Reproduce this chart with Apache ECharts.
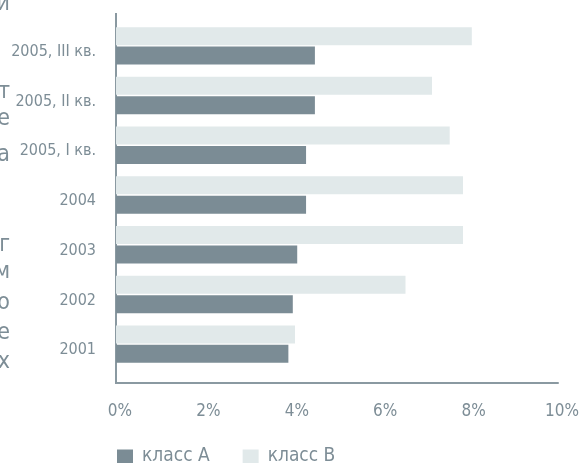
<!DOCTYPE html>
<html>
<head>
<meta charset="utf-8">
<script src="https://cdn.jsdelivr.net/npm/echarts@6/dist/echarts.min.js"></script>
<style>
  html, body { margin: 0; padding: 0; background: #fff; }
  #main { width: 579px; height: 463px; }
</style>
</head>
<body>
<div id="main"></div>
<script>
var categories = ['2001', '2002', '2003', '2004', '2005, I кв.', '2005, II кв.', '2005, III кв.'];
var classA = [3.9, 4.0, 4.1, 4.3, 4.3, 4.5, 4.5];
var classB = [4.05, 6.55, 7.85, 7.85, 7.55, 7.15, 8.05];
var seriesNames = ['класс А', 'класс В'];
// обрезанные буквы соседнего текста у левого края
var sideLetters = ['и', 'т', 'е', 'а', 'г', 'м', 'о', 'е', 'х'];
var sideY = [4, 92, 119, 155, 245, 272, 303, 333, 362];

var font = '"DejaVu Sans Condensed", "Liberation Sans Narrow", "Roboto", sans-serif';
var textColor = '#7d8d96';
var axisColor = '#8a99a1';

var myChart = echarts.init(document.getElementById('main'));

var side = sideLetters.map(function (ch, i) {
    return {
        type: 'text',
        x: 10,
        y: sideY[i],
        style: {
            text: ch,
            font: '23px ' + font,
            fill: textColor,
            align: 'right',
            verticalAlign: 'middle'
        }
    };
});

var option = {
    animation: false,
    textStyle: { fontFamily: font },
    grid: {
        left: 116, right: 21, top: 21, bottom: 94,
        containLabel: false,
        outerBoundsMode: 'none'
    },
    legend: {
        left: 117,
        top: 447,
        padding: 0,
        itemWidth: 16,
        itemHeight: 14,
        itemGap: 33,
        icon: 'rect',
        textStyle: {
            color: textColor,
            fontSize: 19,
            lineHeight: 16,
            fontFamily: font,
            padding: [0, 0, 0, 4]
        },
        data: seriesNames
    },
    xAxis: {
        type: 'value',
        min: 0,
        max: 10,
        interval: 2,
        offset: 14,
        axisLine: { show: true, lineStyle: { color: axisColor, width: 2 } },
        axisTick: { show: false },
        splitLine: { show: false },
        axisLabel: {
            color: textColor,
            fontSize: 17,
            margin: 20,
            padding: [0, 0, 0, 8],
            formatter: '{value}%'
        }
    },
    yAxis: {
        type: 'category',
        data: categories,
        axisLine: { show: false },
        axisTick: { show: false },
        axisLabel: {
            color: textColor,
            fontSize: 16,
            margin: 20,
            verticalAlign: 'top',
            lineHeight: 12
        }
    },
    series: [
        {
            name: seriesNames[1],
            type: 'bar',
            data: classB,
            barWidth: 18,
            barGap: '8%',
            itemStyle: { color: '#e1e9ea' }
        },
        {
            name: seriesNames[0],
            type: 'bar',
            data: classA,
            barWidth: 18,
            itemStyle: { color: '#7b8c95' }
        }
    ],
    graphic: [
        {
            type: 'line',
            shape: { x1: 116, y1: 13, x2: 116, y2: 384 },
            style: { stroke: axisColor, lineWidth: 2 }
        }
    ].concat(side)
};
myChart.setOption(option);
</script>
</body>
</html>
